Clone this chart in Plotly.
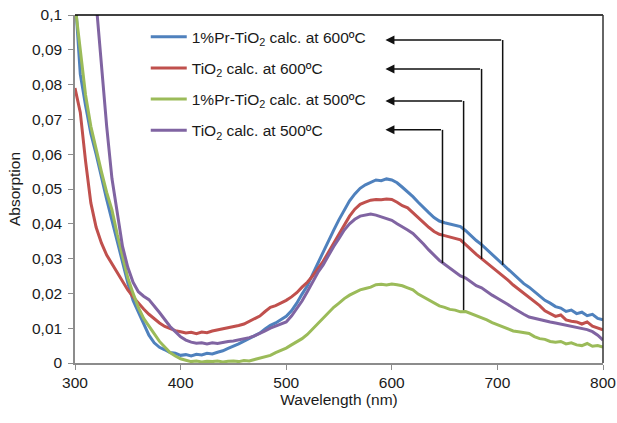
import plotly.graph_objects as go

wavelength = list(range(300, 801, 5))

pr_tio2_600 = [0.106, 0.083, 0.074, 0.066, 0.060, 0.053, 0.047, 0.041, 0.035, 0.029,
               0.023, 0.018, 0.0145, 0.011, 0.008, 0.0058, 0.0045, 0.0038, 0.003, 0.0028,
               0.0022, 0.0024, 0.0020, 0.0025, 0.0023, 0.0028, 0.0026, 0.0031, 0.0035, 0.0042,
               0.0048, 0.0055, 0.0063, 0.0070, 0.0078, 0.0086, 0.0098, 0.0108, 0.0115, 0.0124,
               0.0134, 0.0150, 0.0172, 0.0198, 0.0222, 0.0255, 0.0288, 0.0318, 0.0352, 0.0382,
               0.0412, 0.0440, 0.0466, 0.0486, 0.0502, 0.0512, 0.0520, 0.0526, 0.0524, 0.0529,
               0.0526, 0.0518, 0.0505, 0.0492, 0.0478, 0.0462, 0.0446, 0.0432, 0.0418, 0.0408,
               0.0403, 0.0400, 0.0396, 0.0392, 0.0380, 0.0365, 0.0352, 0.0340, 0.0326, 0.0310,
               0.0296, 0.0282, 0.0268, 0.0254, 0.0240, 0.0228, 0.0218, 0.0205, 0.0193, 0.0180,
               0.0172, 0.0162, 0.0158, 0.0148, 0.0152, 0.0142, 0.0146, 0.0136, 0.0140, 0.0128,
               0.0124]

tio2_600 = [0.079, 0.072, 0.058, 0.046, 0.039, 0.0345, 0.031, 0.0285, 0.0260, 0.0235,
            0.0210, 0.0190, 0.0172, 0.0155, 0.0140, 0.0127, 0.0115, 0.0105, 0.0098, 0.0093,
            0.0090, 0.0086, 0.0088, 0.0084, 0.0089, 0.0087, 0.0092, 0.0095, 0.0098, 0.0101,
            0.0103, 0.0108, 0.0112, 0.0120, 0.0126, 0.0135, 0.0148, 0.0160, 0.0165, 0.0172,
            0.0180, 0.0190, 0.0202, 0.0218, 0.0232, 0.0250, 0.0270, 0.0292, 0.0318, 0.0345,
            0.0372, 0.0398, 0.0422, 0.0442, 0.0456, 0.0462, 0.0468, 0.0470, 0.0469, 0.0471,
            0.0470, 0.0462, 0.0452, 0.0446, 0.0432, 0.0418, 0.0402, 0.0390, 0.0378, 0.0370,
            0.0366, 0.0362, 0.0358, 0.0354, 0.0340, 0.0325, 0.0312, 0.0300, 0.0288, 0.0274,
            0.0262, 0.0250, 0.0238, 0.0224, 0.0212, 0.0200, 0.0190, 0.0178, 0.0165, 0.0150,
            0.0142, 0.0134, 0.0138, 0.0124, 0.0120, 0.0118, 0.0112, 0.0118, 0.0106, 0.0100,
            0.0095]

pr_tio2_500 = [0.103, 0.090, 0.077, 0.068, 0.061, 0.055, 0.049, 0.044, 0.037, 0.031,
               0.0245, 0.020, 0.016, 0.0128, 0.0105, 0.0085, 0.0062, 0.0046, 0.0030, 0.0020,
               0.0012, 0.0008, 0.0004, 0.0006, 0.0003, 0.0005, 0.0004, 0.0006, 0.0003, 0.0005,
               0.0006, 0.0004, 0.0007, 0.0006, 0.0010, 0.0014, 0.0018, 0.0022, 0.0030, 0.0036,
               0.0043, 0.0052, 0.0060, 0.0070, 0.0082, 0.0098, 0.0115, 0.0130, 0.0145, 0.0160,
               0.0172, 0.0185, 0.0195, 0.0203, 0.0210, 0.0214, 0.0218, 0.0225, 0.0226, 0.0224,
               0.0227, 0.0225, 0.0222, 0.0216, 0.0210, 0.0198, 0.0190, 0.0180, 0.0172, 0.0164,
               0.0160, 0.0154, 0.0152, 0.0147, 0.0148, 0.0142, 0.0136, 0.0132, 0.0124, 0.0116,
               0.0110, 0.0102, 0.0098, 0.0092, 0.0090, 0.0088, 0.0085, 0.0076, 0.0070, 0.0068,
               0.0062, 0.0060, 0.0062, 0.0055, 0.0058, 0.0052, 0.0050, 0.0056, 0.0048, 0.0050,
               0.0046]

tio2_500 = [0.175, 0.157, 0.140, 0.122, 0.104, 0.085, 0.068, 0.053, 0.043, 0.0335,
            0.0275, 0.0232, 0.0205, 0.0192, 0.0182, 0.0165, 0.0145, 0.0125, 0.0105, 0.0090,
            0.0075, 0.0066, 0.0060, 0.0057, 0.0058, 0.0055, 0.0058, 0.0056, 0.0060, 0.0062,
            0.0063, 0.0066, 0.0070, 0.0073, 0.0078, 0.0084, 0.0092, 0.0100, 0.0106, 0.0112,
            0.0118, 0.0135, 0.0155, 0.0178, 0.0205, 0.0232, 0.0260, 0.0282, 0.0310, 0.0335,
            0.0358, 0.0382, 0.0400, 0.0413, 0.0422, 0.0426, 0.0428, 0.0425, 0.0420, 0.0416,
            0.0410, 0.0400, 0.0392, 0.0382, 0.0372, 0.0358, 0.0342, 0.0325, 0.0310, 0.0295,
            0.0284, 0.0272, 0.0260, 0.0250, 0.0244, 0.0232, 0.0222, 0.0216, 0.0205, 0.0195,
            0.0186, 0.0178, 0.0168, 0.0158, 0.0148, 0.0140, 0.0132, 0.0128, 0.0124, 0.0120,
            0.0118, 0.0115, 0.0112, 0.0108, 0.0104, 0.0102, 0.0098, 0.0096, 0.0090, 0.0080,
            0.0066]

series_names = ["1%Pr-TiO<sub>2</sub> calc. at 600ºC",
                "TiO<sub>2</sub> calc. at 600ºC",
                "1%Pr-TiO<sub>2</sub> calc. at 500ºC",
                "TiO<sub>2</sub> calc. at 500ºC"]
series_values = [pr_tio2_600, tio2_600, pr_tio2_500, tio2_500]
series_colors = ["#4F81BD", "#C0504D", "#9BBB59", "#8064A2"]

# pointer arrows: x of vertical line, y where it meets the curve, y of legend row
arrow_x = [705, 685, 668, 648]
arrow_curve_y = [0.0282, 0.0299, 0.0152, 0.0287]
arrow_row_y = [0.0928, 0.0845, 0.0753, 0.0670]
arrow_tip_x = 594

x_ticks = [300, 400, 500, 600, 700, 800]

FONT = "Liberation Sans, Arial, sans-serif"

fig = go.Figure()
for i, (name, vals, col) in enumerate(zip(series_names, series_values, series_colors)):
    fig.add_trace(go.Scatter(x=wavelength, y=vals, mode="lines", name=name,
                             legendgroup=f"g{i}",
                             line=dict(color=col, width=3)))

for ax_x, cy, ry in zip(arrow_x, arrow_curve_y, arrow_row_y):
    fig.add_shape(type="line", x0=ax_x, x1=ax_x, y0=cy, y1=ry, xref="x", yref="y",
                  line=dict(color="#111111", width=1.5))
    fig.add_annotation(x=arrow_tip_x, y=ry, ax=ax_x, ay=ry, xref="x", yref="y",
                       axref="x", ayref="y", text="", showarrow=True,
                       arrowhead=2, arrowsize=1.2, arrowwidth=1.5, arrowcolor="#111111")

# frame (top and right)
fig.add_shape(type="line", xref="paper", yref="paper", x0=0, x1=1, y0=1, y1=1,
              line=dict(color="#000000", width=1.5))
fig.add_shape(type="line", xref="paper", yref="paper", x0=1, x1=1, y0=0, y1=1,
              line=dict(color="#333333", width=1.5))

fig.update_layout(
    width=617, height=423,
    margin=dict(l=75, r=14, t=15, b=60),
    plot_bgcolor="white", paper_bgcolor="white",
    separators=", ",
    font=dict(family=FONT, size=15.5, color="#1a1a1a"),
    showlegend=True,
    legend=dict(x=0.134, y=0.985, xanchor="left", yanchor="top",
                bgcolor="rgba(0,0,0,0)", tracegroupgap=8, itemwidth=36,
                font=dict(size=15.5, color="#1a1a1a")),
    xaxis=dict(range=[300, 800], tickvals=x_ticks, showgrid=False, zeroline=False,
               automargin=False,
               showline=True, linecolor="#8c8c8c", linewidth=1.5,
               ticks="outside", ticklen=5, tickcolor="#8c8c8c",
               tickfont=dict(size=15.5),
               title=dict(text="Wavelength (nm)", font=dict(size=15.5), standoff=2)),
    yaxis=dict(range=[0, 0.1], dtick=0.01, showgrid=False, zeroline=False,
               automargin=False,
               showline=True, linecolor="#8c8c8c", linewidth=1.5,
               ticks="outside", ticklen=5, tickcolor="#8c8c8c", ticklabelstandoff=3,
               tickfont=dict(size=15.5),
               title=dict(text="Absorption", font=dict(size=15.5), standoff=8)),
)

fig.write_html("out.html",
               config={"displayModeBar": False},
               post_script="document.body.style.margin='0';"
                           "document.body.style.overflow='hidden';")
